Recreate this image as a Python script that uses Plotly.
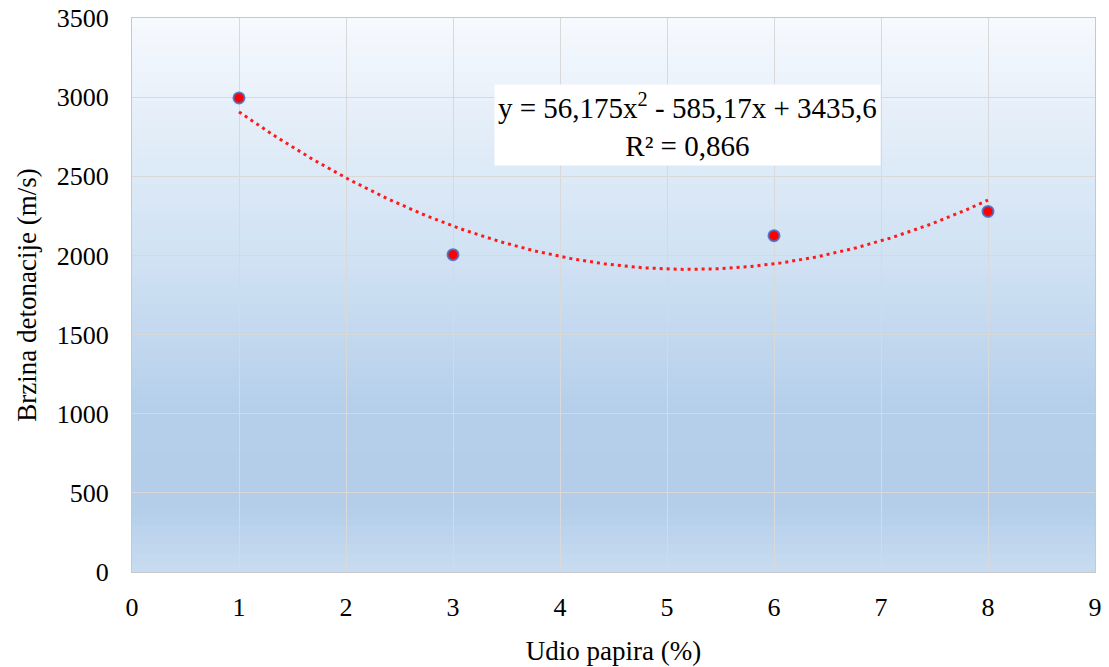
import numpy as np
import plotly.graph_objects as go

# data
udio = [1, 3, 6, 8]
brzina = [2995, 2005, 2125, 2278]

# trendline coefficients as printed in the chart (a*x^2 + b*x + c)
coef = [56.175, -585.17, 3435.6]
trend_eq = "y = 56,175x<sup>2</sup> - 585,17x + 3435,6<br>R² = 0,866"

x_ticks = list(range(0, 10))
y_ticks = list(range(0, 3501, 500))

font = "Liberation Serif, Times New Roman, serif"

xt = np.linspace(min(udio), max(udio), 200)
yt = np.polyval(coef, xt)

fig = go.Figure()

fig.add_trace(go.Scatter(
    x=xt, y=yt, mode="lines",
    line=dict(color="#ff1a1a", width=3, dash="3px,4px"),
    hoverinfo="skip", showlegend=False,
))
fig.add_trace(go.Scatter(
    x=udio, y=brzina, mode="markers",
    marker=dict(size=11, color="#ff0000",
                line=dict(color="rgba(70,110,200,0.85)", width=2)),
    showlegend=False,
))

# vertical gradient background of the plot area (strips)
stops = [(0.0, (200, 220, 240)), (0.12, (180, 206, 234)), (0.30, (182, 208, 235)),
         (0.55, (207, 225, 243)), (0.80, (228, 238, 249)), (1.0, (247, 250, 254))]
n = 60
shapes = []
for i in range(n):
    t0, t1 = i / n, (i + 1) / n
    tm = (t0 + t1) / 2
    for (a, ca), (b, cb) in zip(stops[:-1], stops[1:]):
        if a <= tm <= b:
            f = (tm - a) / (b - a)
            c = tuple(ca[k] + (cb[k] - ca[k]) * f for k in range(3))
            break
    shapes.append(dict(
        type="rect", xref="paper", yref="paper", x0=0, x1=1, y0=t0, y1=t1 + 0.002,
        fillcolor="rgb(%d,%d,%d)" % c, line=dict(width=0), layer="below",
    ))

fig.add_annotation(
    x=5.19, y=2822, text=trend_eq, showarrow=False,
    font=dict(family=font, size=29, color="black"),
    bgcolor="white", borderpad=3, align="center",
)

fig.update_layout(
    width=1109, height=667,
    margin=dict(l=132, r=14, t=18, b=95),
    paper_bgcolor="white", plot_bgcolor="white",
    font=dict(family=font, size=26, color="black"),
    shapes=shapes,
)
fig.update_xaxes(
    range=[0, 9], tickvals=x_ticks, showgrid=True, gridcolor="#d9d9d9", gridwidth=1,
    showline=True, linecolor="#c8c8c8", mirror=True, zeroline=False, automargin=False,
    ticks="outside", ticklen=12, tickcolor="rgba(0,0,0,0)",
    title=dict(text="Udio papira (%)", font=dict(size=27), standoff=19),
)
fig.update_yaxes(
    range=[0, 3500], tickvals=y_ticks, showgrid=True, gridcolor="#d9d9d9", gridwidth=1,
    showline=True, linecolor="#c8c8c8", mirror=True, zeroline=False, automargin=False,
    ticks="outside", ticklen=17, tickcolor="rgba(0,0,0,0)",
    title=dict(text="Brzina detonacije (m/s)", font=dict(size=27), standoff=12),
)

# drop the default 8px page margin so the figure fills the window
fig.write_html("out.html", config={"displayModeBar": False},
               post_script="document.body.style.margin='0';")
